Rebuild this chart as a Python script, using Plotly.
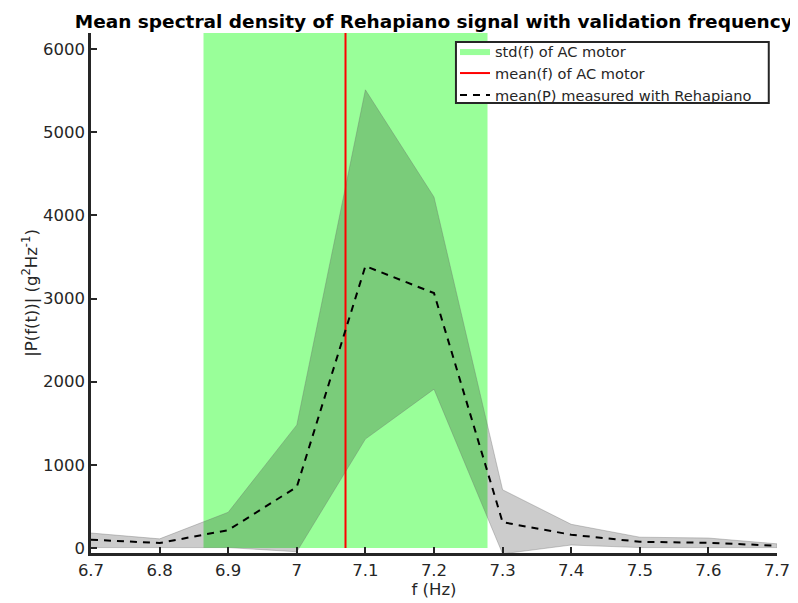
import plotly.graph_objects as go

freq = [6.7, 6.8, 6.9, 7.0, 7.1, 7.2, 7.3, 7.4, 7.5, 7.6, 7.7]
mean_p = [100, 60, 215, 735, 3390, 3065, 310, 160, 75, 62, 28]
upper_p = [180, 110, 430, 1480, 5510, 4220, 700, 285, 130, 120, 50]
lower_p = [5, 5, 5, -45, 1310, 1910, -70, 36, 5, 5, 5]
x_ticks = [6.7, 6.8, 6.9, 7.0, 7.1, 7.2, 7.3, 7.4, 7.5, 7.6, 7.7]
x_ticktext = ['6.7', '6.8', '6.9', '7', '7.1', '7.2', '7.3', '7.4', '7.5', '7.6', '7.7']
y_ticks = [0, 1000, 2000, 3000, 4000, 5000, 6000]
motor_mean = 7.071
motor_std = 0.207
y_top = 6193
y_bot = -60

fig = go.Figure()

# std rectangle
xl, xr = motor_mean - motor_std, motor_mean + motor_std
fig.add_trace(go.Scatter(x=[xl, xr, xr, xl, xl], y=[0, 0, y_top, y_top, 0],
                         fill='toself', fillcolor='#99ff99', mode='lines',
                         line=dict(width=0, color='#99ff99'),
                         name='std(f) of AC motor'))

# grey band
fig.add_trace(go.Scatter(x=freq + freq[::-1], y=upper_p + lower_p[::-1],
                         fill='toself', fillcolor='rgba(0,0,0,0.2)', mode='lines',
                         line=dict(width=0.6, color='rgba(110,110,110,0.6)'),
                         showlegend=False, hoverinfo='skip'))

fig.add_trace(go.Scatter(x=[motor_mean, motor_mean], y=[0, y_top], mode='lines',
                         line=dict(color='#ff0000', width=2),
                         name='mean(f) of AC motor'))

fig.add_trace(go.Scatter(x=freq, y=mean_p, mode='lines',
                         line=dict(color='black', width=2, dash='7px,6px'),
                         name='mean(P) measured with Rehapiano'))

axis_common = dict(showgrid=False, zeroline=False, showline=True, linecolor='#262626',
                   linewidth=2.5, ticks='inside', ticklen=6, tickwidth=2, tickcolor='#262626',
                   tickfont=dict(size=16.5, color='#262626', family='DejaVu Sans'),
                   mirror=False, automargin=False)

fig.update_xaxes(range=[6.7, 7.7], tickvals=x_ticks, ticktext=x_ticktext,
                 title=dict(text='f (Hz)', font=dict(size=16.5, color='#262626', family='DejaVu Sans'), standoff=2),
                 **axis_common)
fig.update_yaxes(range=[y_bot, y_top], tickvals=y_ticks,
                 title=dict(text='|P(f(t))| (g<sup>2</sup>Hz<sup>-1</sup>)',
                            font=dict(size=16.5, color='#262626', family='DejaVu Sans'), standoff=2),
                 **axis_common)

# legend frame
fig.add_shape(type='rect', xref='paper', yref='paper', x0=0.532, x1=0.988, y0=0.8654, y1=0.9827,
              fillcolor='white', line=dict(color='#262626', width=2), layer='above')

fig.update_layout(
    width=790, height=595,
    margin=dict(l=83, r=21, t=25, b=50, autoexpand=False),
    plot_bgcolor='white', paper_bgcolor='white',
    font=dict(family='DejaVu Sans', color='#262626'),
    title=dict(text='<b>Mean spectral density of Rehapiano signal with validation frequency</b>',
               x=0.539, xanchor='center', y=0.977, yanchor='middle',
               font=dict(size=18.5, color='black', family='DejaVu Sans')),
    legend=dict(x=0.5306, y=0.996, xref='paper', yref='paper', xanchor='left', yanchor='top',
                bgcolor='rgba(0,0,0,0)', borderwidth=0,
                font=dict(size=14.6, color='#262626', family='DejaVu Sans'),
                tracegroupgap=0, itemwidth=30),
    showlegend=True,
)

fig.write_html('out.html')
